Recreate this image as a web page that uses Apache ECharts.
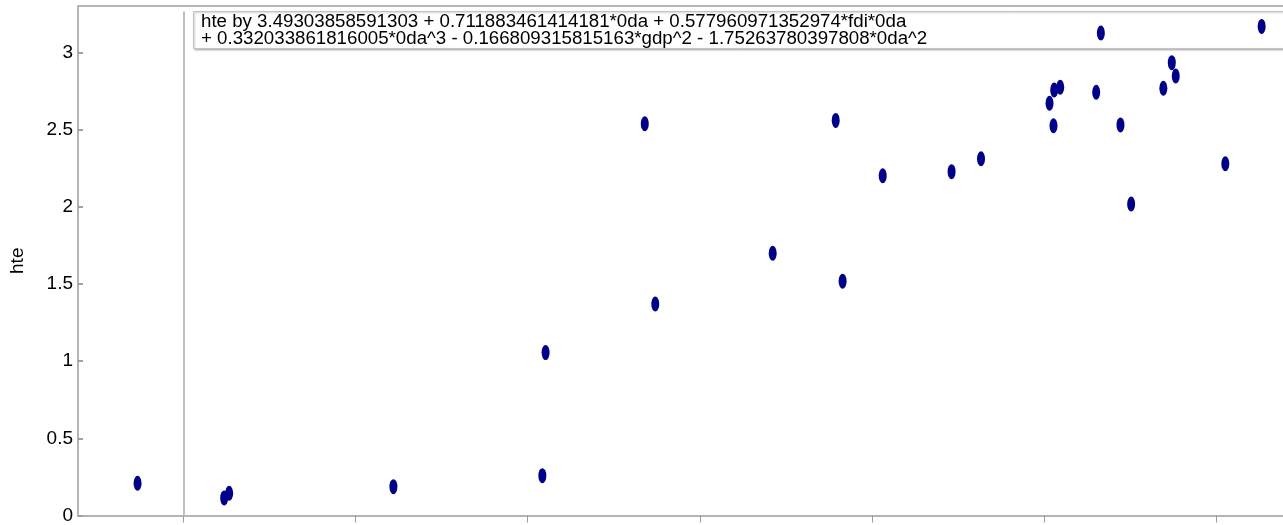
<!DOCTYPE html>
<html>
<head>
<meta charset="utf-8">
<script src="https://cdn.jsdelivr.net/npm/echarts@6/dist/echarts.min.js"></script>
<style>html,body{margin:0;padding:0;background:#fff}#chart{width:1283px;height:525px}</style>
</head>
<body>
<div id="chart"></div>
<script>
// Data (x in axis units: tick positions are 0..6)
var xValues = [-0.266, 0.237, 0.266, 1.220, 2.085, 2.104, 2.680, 2.741, 3.423, 3.789, 3.829, 4.062, 4.462, 4.633,
  5.031, 5.054, 5.058, 5.093, 5.302, 5.329, 5.443, 5.505, 5.692, 5.741, 5.764, 6.052, 6.263];
var yValues = [0.209, 0.114, 0.144, 0.187, 0.258, 1.055, 2.537, 1.370, 1.699, 2.559, 1.518, 2.201, 2.227, 2.311,
  2.670, 2.524, 2.756, 2.774, 2.741, 3.125, 2.530, 2.018, 2.767, 2.933, 2.847, 2.278, 3.168];
var xTickValues = [0, 1, 2, 3, 4, 5, 6];
var yAxisName = 'hte';
var annotation = 'hte by 3.49303858591303 + 0.711883461414181*0da + 0.577960971352974*fdi*0da\n+ 0.332033861816005*0da^3 - 0.166809315815163*gdp^2 - 1.75263780397808*0da^2';
var refLineX = 0;
var refLineTop = 3.265;

var points = xValues.map(function (x, i) { return [x, yValues[i]]; });
var chart = echarts.init(document.getElementById('chart'), null, {renderer: 'canvas'});
var FONT = '"Liberation Sans", Arial, sans-serif';
chart.setOption({
  animation: false,
  backgroundColor: '#ffffff',
  title: {
    z: 1,
    text: annotation,
    left: 193, top: 12,
    padding: [1, 8, 1, 8],
    backgroundColor: '#ffffff',
    borderColor: '#c4c4c4',
    borderWidth: 1,
    shadowBlur: 2, shadowOffsetX: 1, shadowOffsetY: 1, shadowColor: 'rgba(0,0,0,0.25)',
    textStyle: {fontFamily: FONT, fontSize: 18.7, fontWeight: 'normal', color: '#000', lineHeight: 17, width: 1100}
  },
  grid: {left: 76, right: 0, top: 6, bottom: 5, containLabel: false},
  xAxis: [{
    type: 'value', min: -0.612, max: 6.387, position: 'bottom',
    axisLine: {show: true, onZero: false, lineStyle: {color: '#b4b4b4', width: 2}},
    axisTick: {show: true, customValues: xTickValues, length: 7, inside: false, lineStyle: {color: '#9a9a9a', width: 1}},
    axisLabel: {show: false},
    splitLine: {show: false}
  }, {
    type: 'value', min: -0.612, max: 6.387, position: 'top',
    axisLine: {show: true, onZero: false, lineStyle: {color: '#b4b4b4', width: 2}},
    axisTick: {show: false}, axisLabel: {show: false}, splitLine: {show: false}
  }],
  yAxis: {
    type: 'value', min: 0, max: 3.3, interval: 0.5,
    name: yAxisName, nameLocation: 'middle', nameRotate: 90, nameGap: 51,
    nameTextStyle: {fontFamily: FONT, fontSize: 19, color: '#000'},
    axisLine: {show: true, onZero: false, lineStyle: {color: '#b4b4b4', width: 2}},
    axisTick: {show: true, inside: true, length: 5, lineStyle: {color: '#a0a0a0', width: 2}},
    axisLabel: {fontFamily: FONT, fontSize: 19, color: '#000', margin: 5, showMaxLabel: false,
      formatter: function (v) { return String(Math.round(v * 10) / 10); }},
    splitLine: {show: false}
  },
  series: [{
    type: 'scatter',
    data: points,
    symbol: 'circle',
    symbolSize: [8, 15],
    itemStyle: {color: '#000088', opacity: 1},
    markLine: {
      silent: true, symbol: ['none', 'none'], label: {show: false},
      lineStyle: {color: '#c0c0c0', width: 2, type: 'solid'},
      z: 1,
      data: [[{coord: [refLineX, refLineTop]}, {coord: [refLineX, 0]}]]
    },
    z: 5
  }]
});
</script>
</body>
</html>
